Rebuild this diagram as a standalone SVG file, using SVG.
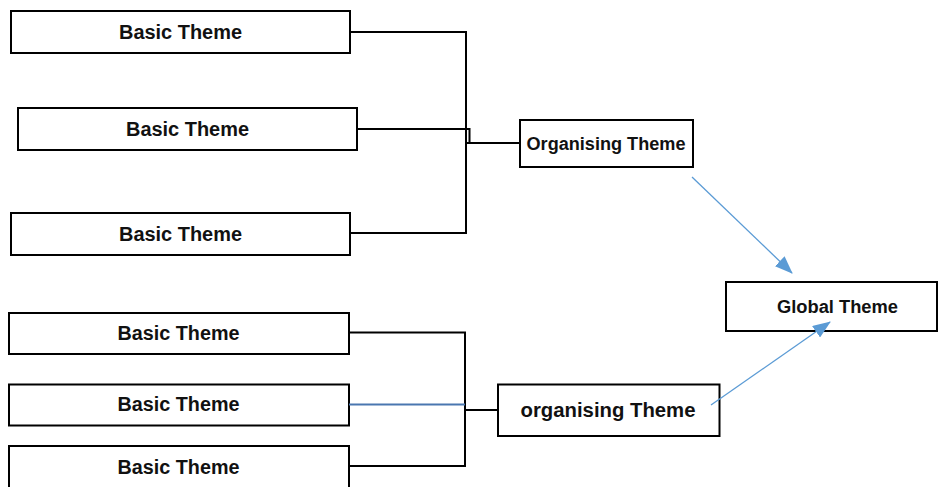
<svg xmlns="http://www.w3.org/2000/svg" width="940" height="487" viewBox="0 0 940 487">
<style>
.box{fill:#fff;stroke:#000;stroke-width:2}
.t{font-family:"Liberation Sans",Arial,sans-serif;font-weight:bold;fill:#111;text-anchor:middle}
.c{fill:none;stroke:#000;stroke-width:2}
.b{fill:none;stroke:#5B9BD5;stroke-width:1.3}
</style>
<defs>
<marker id="ah" markerWidth="18" markerHeight="14" refX="17" refY="7" orient="auto" markerUnits="userSpaceOnUse">
<path d="M0,0 L18,7 L0,14 Z" fill="#5B9BD5"/>
</marker>
</defs>
<rect width="940" height="487" fill="#fff"/>
<g id="basic1"><rect class="box" x="11" y="11" width="339" height="42"/><text class="t" x="180.5" y="39" font-size="19.5" textLength="123" lengthAdjust="spacingAndGlyphs">Basic Theme</text></g>
<g id="basic2"><rect class="box" x="18" y="108" width="339" height="42"/><text class="t" x="187.5" y="136" font-size="19.5" textLength="123" lengthAdjust="spacingAndGlyphs">Basic Theme</text></g>
<g id="basic3"><rect class="box" x="11" y="213" width="339" height="42"/><text class="t" x="180.5" y="241" font-size="19.5" textLength="123" lengthAdjust="spacingAndGlyphs">Basic Theme</text></g>
<g id="organising1"><rect class="box" x="520" y="120" width="173" height="47"/><text class="t" x="606" y="150" font-size="18" textLength="159" lengthAdjust="spacingAndGlyphs">Organising Theme</text></g>
<g id="global"><rect class="box" x="726" y="282" width="211" height="49"/><text class="t" x="837.5" y="313" font-size="17.5" textLength="121" lengthAdjust="spacingAndGlyphs">Global Theme</text></g>
<g id="basic4"><rect class="box" x="9" y="313" width="340" height="41"/><text class="t" x="178.5" y="339.5" font-size="19.5" textLength="122" lengthAdjust="spacingAndGlyphs">Basic Theme</text></g>
<g id="basic5"><rect class="box" x="9" y="384.5" width="340" height="41"/><text class="t" x="178.5" y="411" font-size="19.5" textLength="122" lengthAdjust="spacingAndGlyphs">Basic Theme</text></g>
<g id="basic6"><rect class="box" x="9" y="446" width="340" height="45"/><text class="t" x="178.5" y="473.5" font-size="19.5" textLength="122" lengthAdjust="spacingAndGlyphs">Basic Theme</text></g>
<g id="organising2"><rect class="box" x="498" y="384.5" width="221.5" height="51.5"/><text class="t" x="608" y="416.5" font-size="19.5" textLength="175" lengthAdjust="spacingAndGlyphs">organising Theme</text></g>
<g id="connectors">
<path class="c" d="M350,32 H466 V233 H350"/>
<path class="c" d="M357,129 H469.5 V143"/>
<path class="c" d="M466,143 H520"/>
<path class="c" d="M349,332.5 H465 V466 H349"/>
<path d="M349,404.5 H465" fill="none" stroke="#4A77B0" stroke-width="2"/>
<path class="c" d="M465,410 H498"/>
<path class="b" d="M692,177 L792,273" marker-end="url(#ah)"/>
<path class="b" d="M711,405 L830,322" marker-end="url(#ah)"/>
</g>
</svg>
